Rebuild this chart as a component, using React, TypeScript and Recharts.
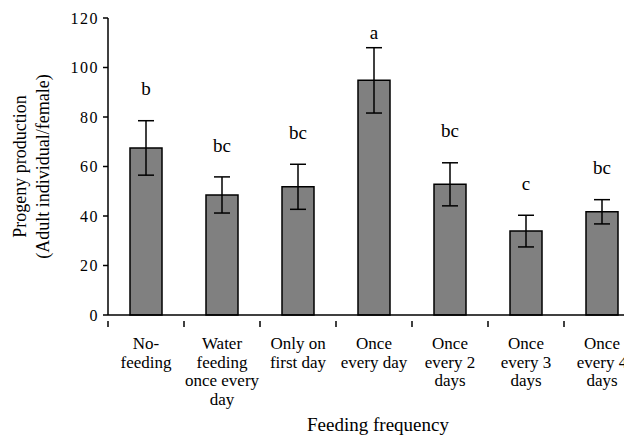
import React from "react";
import {
  BarChart,
  Bar,
  XAxis,
  YAxis,
  ErrorBar,
  LabelList,
} from "recharts";

const categories = [
  ["No-", "feeding"],
  ["Water", "feeding", "once every", "day"],
  ["Only on", "first day"],
  ["Once", "every day"],
  ["Once", "every 2", "days"],
  ["Once", "every 3", "days"],
  ["Once", "every 4", "days"],
];
const progeny = [67.5, 48.5, 51.8, 94.8, 52.8, 33.9, 41.7];
const stdErr = [11, 7.3, 9.1, 13.2, 8.7, 6.4, 4.9];
const letters = ["b", "bc", "bc", "a", "bc", "c", "bc"];
const yTicks = [0, 20, 40, 60, 80, 100, 120];

const data = categories.map((lines, i) => ({
  name: lines.join(" "),
  lines,
  value: progeny[i],
  se: stdErr[i],
  letter: letters[i],
}));

const FONT = '"Liberation Serif", "Times New Roman", "DejaVu Serif", serif';

const CategoryTick = (props: any) => {
  const { x, y, payload, index } = props;
  const lines: string[] = data[index]?.lines ?? [payload.value];
  const half = 38;
  return (
    <g>
      <line x1={x - half} y1={y - 2} x2={x - half} y2={y + 4} stroke="#000" strokeWidth={1.5} />
      <text textAnchor="middle" style={{ fontFamily: FONT, fontSize: 17 }} fill="#000">
        {lines.map((l, i) => (
          <tspan key={i} x={x} y={y + 26 + i * 18.5}>
            {l}
          </tspan>
        ))}
      </text>
    </g>
  );
};

const LetterLabel = (props: any) => {
  const { x, y, width, height, index } = props;
  const d = data[index];
  if (!d) return null;
  const scale = height / d.value;
  const errTop = y - d.se * scale;
  const cy = Math.max(errTop - 32, 32);
  return (
    <text
      x={x + width / 2}
      y={cy}
      dy="0.35em"
      textAnchor="middle"
      style={{ fontFamily: FONT, fontSize: 19 }}
      fill="#000"
    >
      {d.letter}
    </text>
  );
};

export default function App() {
  return (
    <div
      style={{
        position: "fixed",
        left: 0,
        top: 0,
        width: 624,
        height: 437,
        overflow: "hidden",
        background: "#fff",
        fontFamily: FONT,
      }}
    >
      <BarChart
        width={660}
        height={437}
        data={data}
        margin={{ top: 18, right: 20, left: 0, bottom: 0 }}
        barCategoryGap={0}
        style={{ fontFamily: FONT }}
      >
        <XAxis
          dataKey="name"
          height={122}
          interval={0}
          tickLine={false}
          axisLine={{ stroke: "#000", strokeWidth: 1.5 }}
          tick={<CategoryTick />}
          label={(p: any) => {
            const vb = p.viewBox;
            return (
              <text
                x={vb.x + vb.width / 2 + 4}
                y={431}
                textAnchor="middle"
                style={{ fontFamily: FONT, fontSize: 19 }}
                fill="#000"
              >
                Feeding frequency
              </text>
            );
          }}
        />
        <YAxis
          width={108}
          domain={[0, 120]}
          ticks={yTicks}
          interval={0}
          tickSize={5}
          tickMargin={4}
          axisLine={{ stroke: "#000", strokeWidth: 1.5 }}
          tickLine={{ stroke: "#000", strokeWidth: 1.5 }}
          tick={{ style: { fontFamily: FONT, fontSize: 16, letterSpacing: 1.5 }, fill: "#000" }}
          label={(p: any) => {
            const vb = p.viewBox;
            const cy = vb.y + vb.height / 2;
            return (
              <text
                transform={`rotate(-90, 31, ${cy})`}
                x={31}
                y={cy}
                textAnchor="middle"
                style={{ fontFamily: FONT, fontSize: 18 }}
                fill="#000"
              >
                <tspan x={31} dy="-0.3em">Progeny production</tspan>
                <tspan x={31} dy="1.3em">(Adult individual/female)</tspan>
              </text>
            );
          }}
        />
        <Bar
          dataKey="value"
          fill="#808080"
          stroke="#000"
          strokeWidth={1.5}
          barSize={32}
          isAnimationActive={false}
        >
          <ErrorBar dataKey="se" width={8} stroke="#000" strokeWidth={1.5} />
          <LabelList dataKey="letter" content={<LetterLabel />} />
        </Bar>
      </BarChart>
    </div>
  );
}
